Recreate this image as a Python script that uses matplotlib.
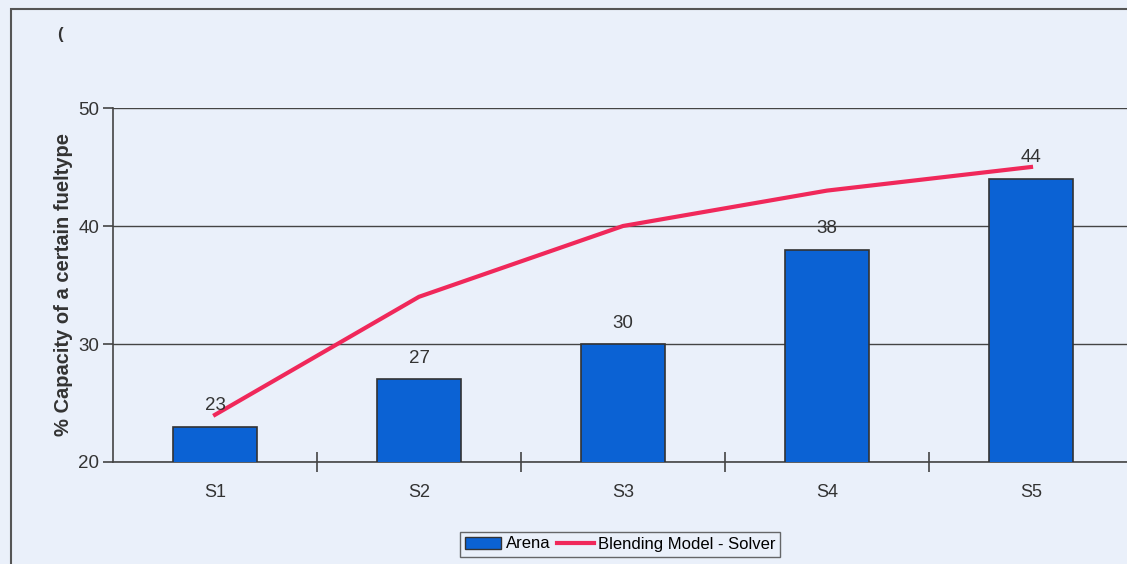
import numpy as np
import matplotlib.pyplot as plt
from matplotlib.patches import Rectangle
from matplotlib.lines import Line2D

plt.rcParams['font.family'] = ['Liberation Sans', 'DejaVu Sans']

# data
categories = ['S1', 'S2', 'S3', 'S4', 'S5']
arena = [23, 27, 30, 38, 44]
solver = [24, 34, 40, 43, 45]

bg = '#eaf0fa'
bar_col = '#0b62d4'
line_col = '#f0285a'

fig = plt.figure(figsize=(11.27, 5.64), dpi=100, facecolor=bg)
ax = fig.add_axes([113/1127, 102/564, 1020/1127, 354/564])
ax.set_facecolor(bg)

x = np.arange(len(categories))
ax.bar(x, arena, width=0.41, color=bar_col, edgecolor='#333333', linewidth=1.2, zorder=3)
ax.plot(x, solver, color=line_col, linewidth=3, zorder=4)

# value labels above bars
for xi, v in zip(x, arena):
    ax.annotate(str(v), (xi, v), xytext=(0, 15), textcoords='offset points',
                ha='center', va='center', fontsize=13.5, color='#333333', zorder=5)

ax.set_xlim(-0.5, 4.5)
ax.set_ylim(20, 50)
ax.set_yticks([20, 30, 40, 50])
ax.yaxis.grid(True, color='#444444', linewidth=1)
ax.set_axisbelow(True)
for s in ['top', 'right']:
    ax.spines[s].set_visible(False)
for s in ['left', 'bottom']:
    ax.spines[s].set_color('#444444')
    ax.spines[s].set_linewidth(1.2)

ax.set_xticks(x)
ax.set_xticklabels(categories, fontsize=13, color='#333333')
ax.tick_params(axis='x', which='major', length=0, pad=16)
ax.set_xticks([0.5, 1.5, 2.5, 3.5], minor=True)
ax.tick_params(axis='x', which='minor', direction='inout', length=14, width=1.2, color='#444444')
ax.tick_params(axis='y', length=7, width=1.2, color='#444444', labelsize=13.5, labelcolor='#333333', pad=3)

ax.set_ylabel('% Capacity of a certain fueltype', fontsize=14.5, fontweight='bold',
              color='#333333', labelpad=4)

# legend
handles = [Rectangle((0, 0), 1, 1, facecolor=bar_col, edgecolor='#333333'),
           Line2D([0], [0], color=line_col, linewidth=3)]
leg = fig.legend(handles, ['Arena', 'Blending Model - Solver'], loc='center',
                 bbox_to_anchor=(620/1127, 1 - 544/564), ncol=2, frameon=True,
                 fancybox=False, edgecolor='#444444', facecolor=bg, fontsize=12,
                 handlelength=2.2, handletextpad=0.25, columnspacing=0.4,
                 borderpad=0.3)
leg.get_frame().set_linewidth(1.0)

# outer chart frame
fig.patches.append(Rectangle((11/1127, -0.05), 1.1, 1 - 9/564 + 0.05, transform=fig.transFigure,
                             fill=False, edgecolor='#555555', linewidth=1.5))
fig.text(60/1127, 1 - 34/564, '(', fontsize=12, fontweight='bold', color='#333333',
         ha='center', va='center')

fig.savefig('out.png', dpi=100, facecolor=bg)
